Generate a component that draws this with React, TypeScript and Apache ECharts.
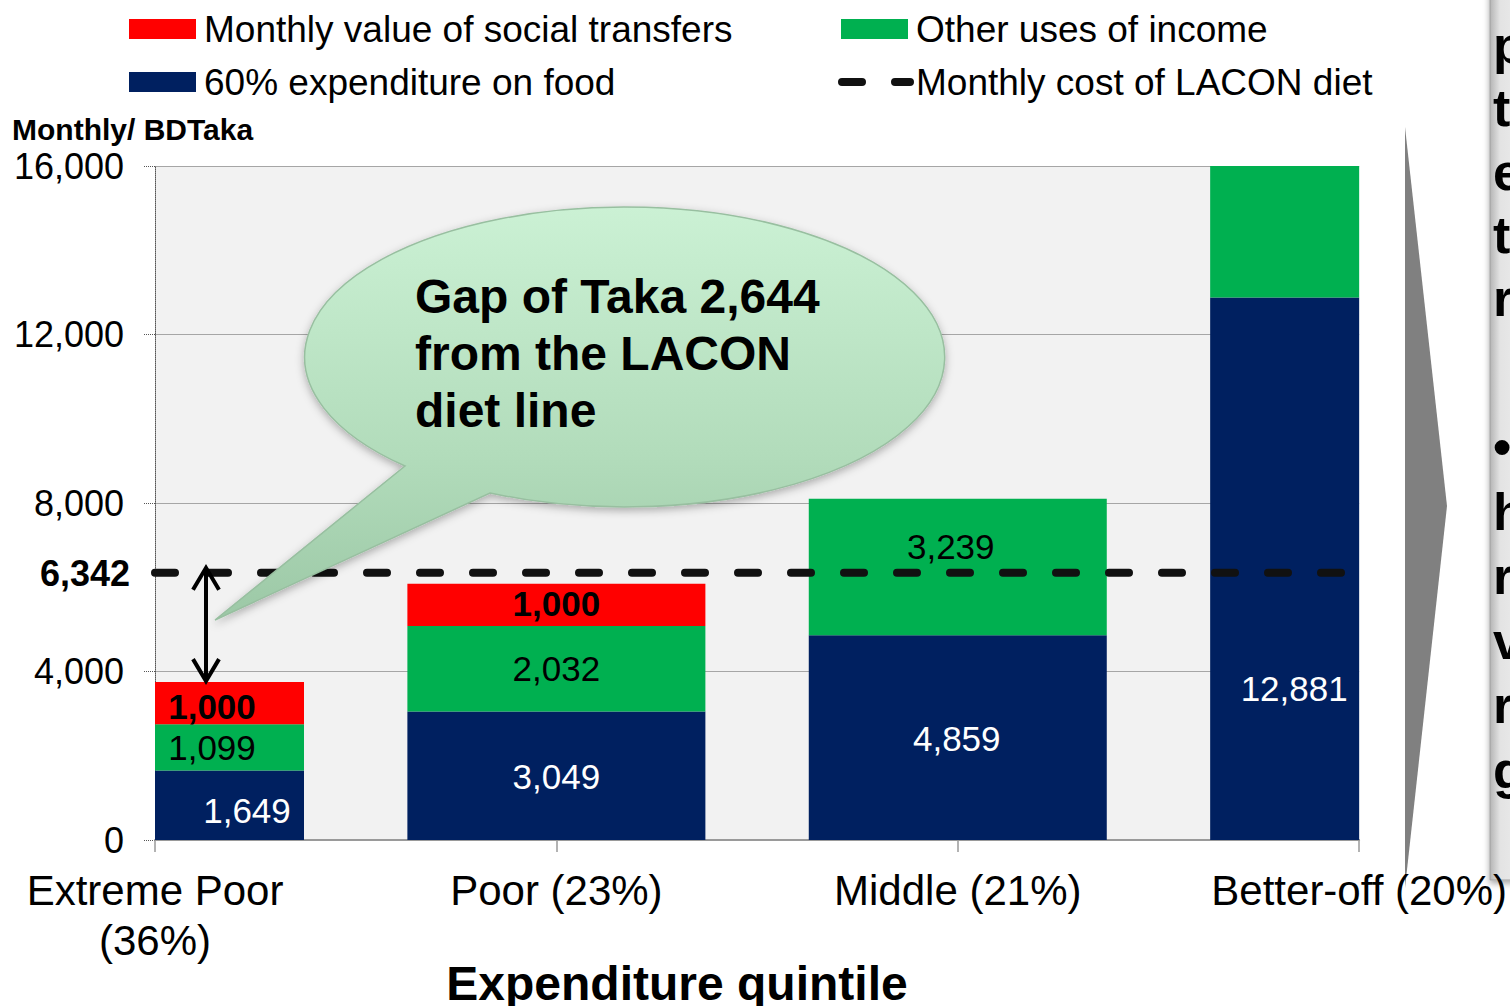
import React, { useEffect, useRef } from "react";
import * as echarts from "echarts";

// ---------------- data ----------------
const categories = ["Extreme Poor\n(36%)", "Poor (23%)", "Middle (21%)", "Better-off (20%)"];
const foodValues = [1649, 3049, 4859, 12881];
const otherValues = [1099, 2032, 3239, 3119];
const transferValues: (number | null)[] = [1000, 1000, null, null];
const laconCost = 6342;
const gapValue = 2644;
const yMin = 0;
const yMax = 16000;
const yInterval = 4000;

const seriesNames = {
  food: "60% expenditure on food",
  other: "Other uses of income",
  transfer: "Monthly value of social transfers",
  lacon: "Monthly cost of LACON diet",
};
const yAxisTitle = "Monthly/ BDTaka";
const xAxisTitle = "Expenditure quintile";
const calloutText = [`Gap of Taka ${gapValue.toLocaleString("en-US")}`, "from the LACON", "diet line"];
const sideLetters1 = ["p", "t", "e", "t", "r"];
const sideLetters2 = ["•", "h", "r", "v", "r", "g"];

// ---------------- styles ----------------
const FONT = '"Liberation Sans", Arial, Helvetica, sans-serif';
const NAVY = "#002060";
const GREEN = "#00B050";
const RED = "#FF0000";
const BAR_HALF_WIDTH = 149;

// label offsets from the centre of the full (unclipped) bar segment (style only)
const foodLabelOffsets = [[92, 5], [0, 1], [-1, 1], [-65, 120]];
const otherLabelOffsets = [[57, 0], [0, 0], [-7, -21], null];
const transferLabelOffsets = [[57, 3], [0, -1], null, null];

const fmt = (v: number) => v.toLocaleString("en-US");

const calloutPath = "M 405 466 A 320 150 0 1 1 490 493 L 215 620 Z";
echarts.graphic.registerShape("calloutBubble", echarts.graphic.extendPath(calloutPath, {}));

// stacked layer rows: [categoryIndex, base, top, value]
function layerRows(values: (number | null)[], bases: number[]) {
  const rows: number[][] = [];
  values.forEach((v, i) => {
    if (v == null) return;
    rows.push([i, bases[i], bases[i] + v, v]);
  });
  return rows;
}

function makeRenderItem(fill: string, offsets: (number[] | null)[], textStyle: any) {
  return (params: any, api: any) => {
    const idx = api.value(0);
    const base = api.value(1);
    const top = api.value(2);
    const val = api.value(3);
    const p0 = api.coord([idx, base]);
    const p1 = api.coord([idx, top]);
    const full = { x: p0[0] - BAR_HALF_WIDTH, y: p1[1], width: BAR_HALF_WIDTH * 2, height: p0[1] - p1[1] };
    const cs = params.coordSys;
    const clipped = echarts.graphic.clipRectByRect(full, { x: cs.x, y: cs.y, width: cs.width, height: cs.height });
    if (!clipped) return null;
    const children: any[] = [{ type: "rect", shape: clipped, style: { fill } }];
    const off = offsets[idx];
    if (off) {
      children.push({
        type: "text",
        z2: 10,
        style: {
          text: fmt(val),
          x: full.x + full.width / 2 + off[0],
          y: full.y + full.height / 2 + off[1],
          textAlign: "center",
          textVerticalAlign: "middle",
          fontFamily: FONT,
          fontSize: 35,
          ...textStyle,
        },
      });
    }
    return { type: "group", children };
  };
}

export default function App() {
  const ref = useRef<HTMLDivElement>(null);
  useEffect(() => {
    if (!ref.current) return;
    const chart = echarts.init(ref.current, null, { renderer: "svg" });

    const zeros = categories.map(() => 0);
    const foodTop = foodValues.map((v, i) => zeros[i] + v);
    const otherTop = otherValues.map((v, i) => foodTop[i] + v);

    const option: any = {
      animation: false,
      backgroundColor: "#ffffff",
      textStyle: { fontFamily: FONT },
      grid: {
        left: 155,
        right: 150,
        top: 166,
        bottom: 166,
        show: true,
        backgroundColor: "#f2f2f2",
        borderWidth: 0,
        containLabel: false,
      },
      xAxis: {
        type: "category",
        data: categories,
        boundaryGap: false,
        axisLine: { show: true, lineStyle: { color: "#9a9a9a", width: 2 } },
        axisTick: { show: true, length: 12, lineStyle: { color: "#9a9a9a", width: 1.5 } },
        axisLabel: {
          interval: 0,
          fontSize: 42,
          lineHeight: 50,
          margin: 25,
          color: "#000",
          fontFamily: FONT,
        },
        splitLine: { show: false },
      },
      yAxis: {
        type: "value",
        min: yMin,
        max: yMax,
        interval: yInterval,
        axisLine: { show: true, lineStyle: { color: "#555", width: 1, type: "dotted" } },
        axisTick: { show: true, length: 11, lineStyle: { color: "#555", width: 1, type: "dotted" } },
        axisLabel: {
          fontSize: 36,
          margin: 31,
          color: "#000",
          fontFamily: FONT,
          formatter: (v: number) => fmt(v),
        },
        splitLine: { show: true, lineStyle: { color: "#a6a6a6", width: 1 } },
      },
      series: [
        {
          name: seriesNames.food,
          type: "custom",
          renderItem: makeRenderItem(NAVY, foodLabelOffsets, { fill: "#fff" }),
          encode: { x: 0, y: 2 },
          data: layerRows(foodValues, zeros),
          z: 2,
        },
        {
          name: seriesNames.other,
          type: "custom",
          renderItem: makeRenderItem(GREEN, otherLabelOffsets, { fill: "#000" }),
          encode: { x: 0, y: 2 },
          data: layerRows(otherValues, foodTop),
          z: 2,
        },
        {
          name: seriesNames.transfer,
          type: "custom",
          renderItem: makeRenderItem(RED, transferLabelOffsets, { fill: "#000", fontWeight: "bold" }),
          encode: { x: 0, y: 2 },
          data: layerRows(transferValues, otherTop),
          z: 2,
        },
        {
          name: seriesNames.lacon,
          type: "line",
          symbol: "none",
          z: 5,
          lineStyle: { color: "#111", width: 8, type: [20, 33], cap: "round" },
          data: categories.map(() => laconCost),
        },
      ],
    };
    chart.setOption(option);

    const [xCat0, yLacon] = chart.convertToPixel({ xAxisIndex: 0, yAxisIndex: 0 }, [0, laconCost]) as number[];
    const extremeTotal = otherTop[0] + (transferValues[0] || 0);
    const [, yExtremeTop] = chart.convertToPixel({ xAxisIndex: 0, yAxisIndex: 0 }, [0, extremeTotal]) as number[];
    const ax = xCat0 + 51;
    const aTop = yLacon - 5;
    const aBot = yExtremeTop - 1;

    const legendItems = [
      { kind: "rect", color: RED, x: 129, y: 29, text: seriesNames.transfer },
      { kind: "rect", color: NAVY, x: 129, y: 82, text: seriesNames.food },
      { kind: "rect", color: GREEN, x: 841, y: 29, text: seriesNames.other },
      { kind: "dash", color: "#111", x: 838, y: 82, text: seriesNames.lacon },
    ];

    const graphics: any[] = [];
    legendItems.forEach((it) => {
      if (it.kind === "rect") {
        graphics.push({
          type: "rect",
          shape: { x: it.x, y: it.y - 10, width: 67, height: 20 },
          style: { fill: it.color },
        });
        graphics.push({
          type: "text",
          x: it.x + 75,
          y: it.y,
          style: { text: it.text, fill: "#000", font: `37px ${FONT}`, textAlign: "left", textVerticalAlign: "middle" },
        });
      } else {
        graphics.push({
          type: "line",
          shape: { x1: it.x + 4, y1: it.y, x2: 910, y2: it.y },
          style: { stroke: it.color, lineWidth: 8, lineDash: [20, 33], lineCap: "round" },
        });
        graphics.push({
          type: "text",
          x: 916,
          y: it.y,
          style: { text: it.text, fill: "#000", font: `37px ${FONT}`, textAlign: "left", textVerticalAlign: "middle" },
        });
      }
    });

    graphics.push({
      type: "text",
      x: 12,
      y: 129,
      style: { text: yAxisTitle, fill: "#000", font: `bold 30px ${FONT}`, textAlign: "left", textVerticalAlign: "middle" },
    });
    graphics.push({
      type: "text",
      x: 677,
      y: 983,
      style: { text: xAxisTitle, fill: "#000", font: `bold 48px ${FONT}`, textAlign: "center", textVerticalAlign: "middle" },
    });
    // LACON value on the y axis
    graphics.push({
      type: "text",
      x: xCat0 - 25,
      y: yLacon + 1,
      style: { text: fmt(laconCost), fill: "#000", font: `bold 36px ${FONT}`, textAlign: "right", textVerticalAlign: "middle" },
    });

    // callout bubble
    graphics.push({
      type: "calloutBubble",
      z: 20,
      style: {
        fill: {
          type: "linear",
          x: 0,
          y: 0,
          x2: 0,
          y2: 1,
          colorStops: [
            { offset: 0, color: "#cbf1d4" },
            { offset: 0.6, color: "#b2dcbb" },
            { offset: 1, color: "#9cc8a6" },
          ],
        },
        stroke: "#98bfa0",
        lineWidth: 1.5,
        shadowBlur: 8,
        shadowColor: "rgba(0,0,0,0.3)",
        shadowOffsetY: 3,
      },
    });
    graphics.push({
      type: "text",
      z: 21,
      x: 415,
      y: 268,
      style: {
        text: calloutText.join("\n"),
        fill: "#000",
        font: `bold 48px ${FONT}`,
        lineHeight: 57,
        textAlign: "left",
        textVerticalAlign: "top",
      },
    });

    // double arrow
    graphics.push({
      type: "line",
      z: 22,
      shape: { x1: ax, y1: aTop + 2, x2: ax, y2: aBot - 2 },
      style: { stroke: "#000", lineWidth: 4 },
    });
    graphics.push({
      type: "polyline",
      z: 22,
      shape: { points: [[ax - 13, aTop + 22], [ax, aTop], [ax + 13, aTop + 22]] },
      style: { stroke: "#000", lineWidth: 4, fill: null },
    });
    graphics.push({
      type: "polyline",
      z: 22,
      shape: { points: [[ax - 13, aBot - 22], [ax, aBot], [ax + 13, aBot - 22]] },
      style: { stroke: "#000", lineWidth: 4, fill: null },
    });

    // chevron
    graphics.push({
      type: "polygon",
      z: -1,
      shape: { points: [[1405, 127], [1447, 506], [1405, 888]] },
      style: { fill: "#808080" },
    });

    // right side panel (cut-off text box of the slide)
    graphics.push({
      type: "rect",
      z: -1,
      shape: { x: 1490, y: -10, width: 40, height: 890 },
      style: {
        fill: {
          type: "linear",
          x: 0,
          y: 0,
          x2: 1,
          y2: 0,
          colorStops: [
            { offset: 0, color: "#b5b5b5" },
            { offset: 0.25, color: "#e3e3e3" },
            { offset: 1, color: "#efefef" },
          ],
        },
        stroke: "#a0a0a0",
        lineWidth: 1,
        shadowBlur: 6,
        shadowColor: "rgba(0,0,0,0.35)",
        shadowOffsetY: 3,
      },
    });
    graphics.push({
      type: "text",
      z: -1,
      x: 1493,
      y: 45 - 31.6,
      style: {
        text: sideLetters1.join("\n"),
        fill: "#000",
        font: `bold 52px ${FONT}`,
        lineHeight: 63.3,
        textAlign: "left",
        textVerticalAlign: "top",
      },
    });
    graphics.push({
      type: "text",
      z: -1,
      x: 1493,
      y: 447 - 32.3,
      style: {
        text: sideLetters2.join("\n"),
        fill: "#000",
        font: `bold 52px ${FONT}`,
        lineHeight: 64.6,
        textAlign: "left",
        textVerticalAlign: "top",
      },
    });

    chart.setOption({ graphic: graphics });

    return () => chart.dispose();
  }, []);

  return (
    <div
      ref={ref}
      style={{ position: "fixed", left: 0, top: 0, width: 1510, height: 1006, background: "#fff" }}
    />
  );
}
